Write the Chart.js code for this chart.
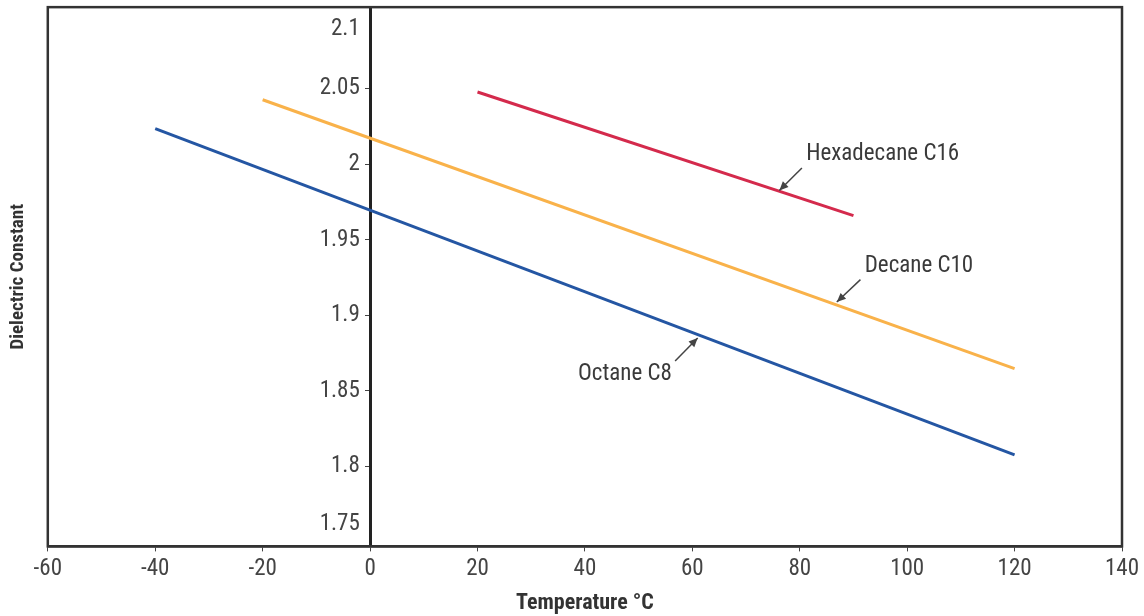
<!DOCTYPE html>
<html>
<head>
<meta charset="utf-8">
<script src="https://cdn.jsdelivr.net/npm/chart.js@4/dist/chart.umd.min.js"></script>
<style>
  html, body { margin: 0; padding: 0; background: #fff; }
  #wrap { width: 1144px; height: 616px; }
</style>
</head>
<body>
<div id="wrap"><canvas id="c" width="1144" height="616"></canvas></div>
<script>
// ---- data ----
const octaneTemp = [-40, 120];
const octaneValues = [2.0236, 1.8076];
const decaneTemp = [-20, 120];
const decaneValues = [2.0427, 1.8647];
const hexadecaneTemp = [20, 90];
const hexadecaneValues = [2.0478, 1.966];
const seriesNames = ['Octane C8', 'Decane C10', 'Hexadecane C16'];
const xTicks = [-60, -40, -20, 0, 20, 40, 60, 80, 100, 120, 140];
const yTicks = [1.75, 1.8, 1.85, 1.9, 1.95, 2, 2.05, 2.1];
const xTitle = 'Temperature °C';
const yTitle = 'Dielectric Constant';
const Y_MIN = 1.747, Y_MAX = 2.104;
// annotation anchors in data units: [label, tipX, tipY, tailX, tailY, textX, textY, align]
const notes = [
  ['Hexadecane C16', 76.2, 1.9826, 80.4, 1.9975, 81.2, 2.0069, 'left'],
  ['Decane C10', 86.9, 1.9088, 91.3, 1.9236, 92.1, 1.9326, 'left'],
  ['Octane C8', 61.0, 1.8850, 56.8, 1.8697, 56.2, 1.8609, 'right']
];

const FONT = '"Liberation Sans Narrow", "Roboto Condensed", "DejaVu Sans Condensed", "Liberation Sans", sans-serif';
const EDGE_VAL = 0.0145; // edge labels are kept this far inside the value range
const LABEL_GAP = '\u2002'; // spacing between y labels and the axis line

const toPts = (xs, ys) => xs.map((x, i) => ({x: x, y: ys[i]}));
const isEdge = v => (Y_MAX - v) < EDGE_VAL || (v - Y_MIN) < EDGE_VAL;

const framePlugin = {
  id: 'frame',
  afterDraw(chart) {
    const {ctx, chartArea: a, scales} = chart;
    ctx.save();
    ctx.strokeStyle = '#333';
    ctx.lineWidth = 2.5;
    ctx.strokeRect(a.left, a.top, a.right - a.left, a.bottom - a.top);
    // edge y labels (clamped inside plot area)
    const ys = scales.y;
    ctx.font = '23px ' + FONT;
    ctx.fillStyle = '#444';
    ctx.textAlign = 'right';
    ctx.textBaseline = 'middle';
    const xpx = scales.x.getPixelForValue(0);
    yTicks.forEach(v => {
      if ((Y_MAX - v) < EDGE_VAL) ctx.fillText(String(v) + LABEL_GAP, xpx, ys.getPixelForValue(Y_MAX - EDGE_VAL));
      else if ((v - Y_MIN) < EDGE_VAL) ctx.fillText(String(v) + LABEL_GAP, xpx, ys.getPixelForValue(Y_MIN + EDGE_VAL));
    });
    // annotations
    notes.forEach(n => {
      const [label, tx, ty, sx, sy, lx, ly, al] = n;
      const X = scales.x, Y = scales.y;
      const x1 = X.getPixelForValue(sx), y1 = Y.getPixelForValue(sy);
      const x2 = X.getPixelForValue(tx), y2 = Y.getPixelForValue(ty);
      ctx.strokeStyle = '#444';
      ctx.fillStyle = '#444';
      ctx.lineWidth = 1.5;
      ctx.beginPath(); ctx.moveTo(x1, y1); ctx.lineTo(x2, y2); ctx.stroke();
      const ang = Math.atan2(y2 - y1, x2 - x1);
      const L = 9, W = 4;
      ctx.beginPath();
      ctx.moveTo(x2, y2);
      ctx.lineTo(x2 - L * Math.cos(ang) + W * Math.sin(ang), y2 - L * Math.sin(ang) - W * Math.cos(ang));
      ctx.lineTo(x2 - L * Math.cos(ang) - W * Math.sin(ang), y2 - L * Math.sin(ang) + W * Math.cos(ang));
      ctx.closePath(); ctx.fill();
      ctx.fillStyle = '#3a3a3a';
      ctx.textAlign = al;
      ctx.textBaseline = 'middle';
      ctx.fillText(label, X.getPixelForValue(lx), Y.getPixelForValue(ly));
    });
    ctx.restore();
  }
};

new Chart(document.getElementById('c'), {
  type: 'scatter',
  data: {
    datasets: [
      {label: seriesNames[0], data: toPts(octaneTemp, octaneValues), showLine: true, borderColor: '#2456a3', borderWidth: 3, pointRadius: 0, yAxisID: 'y'},
      {label: seriesNames[1], data: toPts(decaneTemp, decaneValues), showLine: true, borderColor: '#f9b24a', borderWidth: 3, pointRadius: 0, yAxisID: 'y'},
      {label: seriesNames[2], data: toPts(hexadecaneTemp, hexadecaneValues), showLine: true, borderColor: '#d42a4c', borderWidth: 3, pointRadius: 0, yAxisID: 'y'}
    ]
  },
  options: {
    responsive: false,
    animation: false,
    layout: {padding: {left: 3, right: 22, top: 6, bottom: 0}},
    plugins: {legend: {display: false}, tooltip: {enabled: false}},
    scales: {
      x: {
        type: 'linear', min: -60, max: 140,
        afterBuildTicks: s => { s.ticks = xTicks.map(v => ({value: v})); },
        ticks: {color: '#444', padding: 4, font: {size: 23, family: FONT}, callback: v => String(v)},
        grid: {drawOnChartArea: false, drawTicks: true, tickLength: 5, color: '#444'},
        border: {display: true, color: '#333', width: 2.5},
        title: {display: true, text: xTitle, color: '#333', font: {size: 22, weight: 'bold', family: FONT, lineHeight: 1.0}, padding: {top: 5, bottom: 2}}
      },
      y: {
        type: 'linear', min: Y_MIN, max: Y_MAX,
        position: {x: 0},
        afterBuildTicks: s => { s.ticks = yTicks.map(v => ({value: v})); },
        ticks: {color: '#444', padding: 6, font: {size: 23, family: FONT, lineHeight: 0.1},
          callback: v => isEdge(v) ? '' : String(+v.toFixed(2)) + LABEL_GAP},
        grid: {drawOnChartArea: false, drawTicks: true, tickLength: 4,
          color: ctx => (ctx.tick && isEdge(ctx.tick.value)) ? 'rgba(0,0,0,0)' : '#444'},
        border: {display: true, color: '#222', width: 3}
      },
      yTitleAxis: {
        type: 'linear', position: 'left', min: Y_MIN, max: Y_MAX,
        ticks: {display: false},
        grid: {display: false},
        border: {display: false},
        title: {display: true, text: yTitle, color: '#333', font: {size: 19, weight: 'bold', family: FONT}, padding: {top: 4, bottom: 10}}
      }
    }
  },
  plugins: [framePlugin]
});
</script>
</body>
</html>
